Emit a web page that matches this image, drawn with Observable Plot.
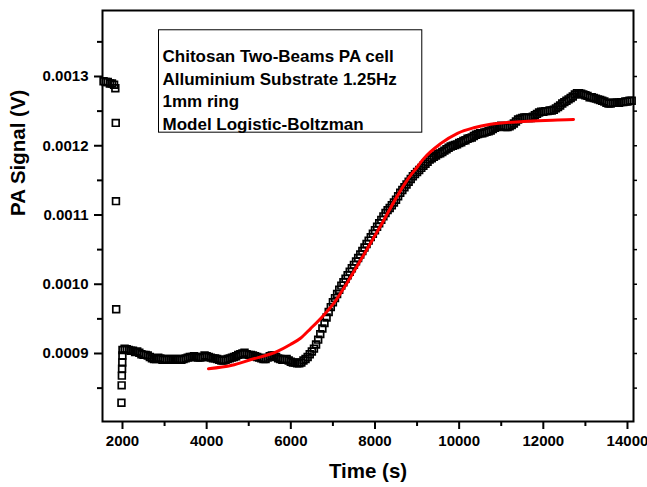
<!DOCTYPE html>
<html><head><meta charset="utf-8">
<script src="https://cdn.jsdelivr.net/npm/d3@7"></script>
<script src="https://cdn.jsdelivr.net/npm/@observablehq/plot@0.6"></script>
<style>body{margin:0;background:#fff}</style>
</head><body><div id="chart"></div>
<script>
// Measured PA signal: time (s) and signal (V)
const timeS = [1550,1600,1650,1700,1750,1800,1830,1840,1845,1850,1975,1980,1985,1990,1995,1998,
2000,2050,2100,2150,2200,2250,2300,2350,2400,2450,2500,2550,2600,2650,2700,2750,2800,2850,2900,2950,
3000,3050,3100,3150,3200,3250,3300,3350,3400,3450,3500,3550,3600,3650,3700,3750,3800,3850,3900,3950,
4000,4050,4100,4150,4200,4250,4300,4350,4400,4450,4500,4550,4600,4650,4700,4750,4800,4850,4900,4950,
5000,5050,5100,5150,5200,5250,5300,5350,5400,5450,5500,5550,5600,5650,5700,5750,5800,5850,5900,5950,
6000,6050,6100,6150,6200,6250,6300,6350,6400,6450,6500,6550,6600,6650,6700,6750,6800,6850,6900,6950,
7000,7050,7100,7150,7200,7250,7300,7350,7400,7450,7500,7550,7600,7650,7700,7750,7800,7850,7900,7950,
8000,8050,8100,8150,8200,8250,8300,8350,8400,8450,8500,8550,8600,8650,8700,8750,8800,8850,8900,8950,
9000,9050,9100,9150,9200,9250,9300,9350,9400,9450,9500,9550,9600,9650,9700,9750,9800,9850,9900,9950,
10000,10050,10100,10150,10200,10250,10300,10350,10400,10450,10500,10550,10600,10650,10700,10750,10800,10850,10900,10950,
11000,11050,11100,11150,11200,11250,11300,11350,11400,11450,11500,11550,11600,11650,11700,11750,11800,11850,11900,11950,
12000,12050,12100,12150,12200,12250,12300,12350,12400,12450,12500,12550,12600,12650,12700,12750,12800,12850,12900,12950,
13000,13050,13100,13150,13200,13250,13300,13350,13400,13450,13500,13550,13600,13650,13700,13750,13800,13850,13900,13950,
14000,14050,14100];
const signalV = [0.001293,0.001292,0.001292,0.001290,0.001290,0.001288,0.001283,0.001233,0.001120,0.000964,0.000829,0.000854,0.000868,0.000878,0.000887,0.000897,
0.000905,0.000907,0.000906,0.000905,0.000904,0.000904,0.000902,0.000903,0.000901,0.000899,0.000898,0.000898,0.000897,0.000895,0.000893,0.000892,0.000892,0.000894,0.000893,0.000891,
0.000891,0.000892,0.000892,0.000891,0.000891,0.000892,0.000892,0.000891,0.000891,0.000892,0.000893,0.000894,0.000895,0.000895,0.000896,0.000895,0.000894,0.000894,0.000895,0.000897,
0.000896,0.000895,0.000894,0.000893,0.000893,0.000892,0.000891,0.000890,0.000890,0.000891,0.000892,0.000893,0.000894,0.000895,0.000896,0.000898,0.000899,0.000900,0.000901,0.000899,
0.000898,0.000898,0.000897,0.000896,0.000895,0.000894,0.000893,0.000892,0.000892,0.000894,0.000896,0.000897,0.000897,0.000895,0.000893,0.000892,0.000891,0.000891,0.000892,0.000890,
0.000888,0.000887,0.000887,0.000886,0.000886,0.000887,0.000890,0.000892,0.000895,0.000899,0.000903,0.000907,0.000913,0.000920,0.000928,0.000936,0.000944,0.000952,0.000960,0.000967,
0.000974,0.000980,0.000986,0.000992,0.000998,0.001003,0.001008,0.001013,0.001018,0.001023,0.001028,0.001033,0.001038,0.001043,0.001048,0.001053,0.001058,0.001063,0.001068,0.001073,
0.001078,0.001083,0.001088,0.001093,0.001098,0.001103,0.001107,0.001110,0.001114,0.001118,0.001122,0.001127,0.001132,0.001136,0.001140,0.001144,0.001148,0.001152,0.001156,0.001159,
0.001162,0.001165,0.001168,0.001171,0.001174,0.001177,0.001180,0.001182,0.001184,0.001186,0.001188,0.001189,0.001191,0.001193,0.001195,0.001197,0.001199,0.001200,0.001201,0.001202,
0.001204,0.001205,0.001207,0.001208,0.001210,0.001211,0.001212,0.001214,0.001216,0.001217,0.001218,0.001218,0.001219,0.001220,0.001221,0.001222,0.001224,0.001226,0.001227,0.001228,
0.001229,0.001228,0.001227,0.001227,0.001228,0.001230,0.001232,0.001235,0.001238,0.001239,0.001240,0.001241,0.001241,0.001240,0.001240,0.001242,0.001244,0.001246,0.001248,0.001249,
0.001249,0.001250,0.001250,0.001251,0.001251,0.001252,0.001254,0.001256,0.001258,0.001261,0.001263,0.001265,0.001267,0.001269,0.001271,0.001274,0.001276,0.001276,0.001275,0.001274,
0.001273,0.001272,0.001270,0.001270,0.001269,0.001268,0.001267,0.001266,0.001265,0.001264,0.001262,0.001261,0.001261,0.001262,0.001262,0.001262,0.001262,0.001263,0.001263,0.001264,
0.001264,0.001265,0.001265];
// Logistic-Boltzmann fit curve
const fitTime = [4044,4600,5040,5680,5990,6230,6470,6776,7050,7347,7727,8131,8535,8750,9000,9153,9557,9960,10350,10745,11529,12337,12717];
const fitSignal = [0.000878,0.000883,0.000891,0.000903,0.000913,0.000922,0.000936,0.000955,0.000975,0.001003,0.001042,0.001084,0.001128,0.001149,0.001169,0.001181,0.001203,0.001218,0.001226,0.001231,0.001235,0.001237,0.001238];
const xMajorTicks = [2000,4000,6000,8000,10000,12000,14000];
const xMinorTicks = [3000,5000,7000,9000,11000,13000];
const yMajorTicks = [0.0009,0.0010,0.0011,0.0012,0.0013];
const yTickLabels = ["0.0009","0.0010","0.0011","0.0012","0.0013"];
const yMinorTicks = [0.00085,0.00095,0.00105,0.00115,0.00125,0.00135];
const legendLines = ["Chitosan Two-Beams PA cell","Alluminium Substrate 1.25Hz","1mm ring","Model Logistic-Boltzman"];
const xTitle = "Time (s)";
const yTitle = "PA Signal (V)";

const points = timeS.map((t, i) => ({t, v: signalV[i]}));
const fit = fitTime.map((t, i) => ({t, v: fitSignal[i]}));
const yLabelOf = new Map(yMajorTicks.map((d, i) => [d, yTickLabels[i]]));
const font = "'Liberation Sans', Arial, sans-serif";

const chart = Plot.plot({
  width: 647, height: 487,
  marginLeft: 102, marginRight: 14, marginTop: 10, marginBottom: 66,
  style: {fontFamily: font, fontWeight: "bold", fontSize: "15px", color: "black", background: "white"},
  x: {domain: [1525, 14143], axis: null},
  y: {domain: [0.0008018, 0.0013953], axis: null},
  marks: [
    Plot.dot(points, {x: "t", y: "v", symbol: "square", r: 3.8, stroke: "black", strokeWidth: 1.7, fill: "none"}),
    Plot.line(fit, {x: "t", y: "v", stroke: "#ff0000", strokeWidth: 3, curve: "monotone-x"}),
    Plot.axisY(yMajorTicks, {anchor: "left", tickSize: 8, tickPadding: 6, strokeWidth: 2, tickFormat: d => yLabelOf.get(d), fontSize: 15, fontWeight: "bold", label: null}),
    Plot.axisY(yMinorTicks, {anchor: "left", tickSize: 5, strokeWidth: 2, tickFormat: () => "", label: null}),
    Plot.axisY(yMajorTicks.concat(yMinorTicks), {anchor: "right", tickSize: 3, strokeWidth: 1.5, tickFormat: () => "", label: null}),
    Plot.axisX(xMajorTicks, {anchor: "bottom", tickSize: 8, tickPadding: 6, strokeWidth: 2, tickFormat: d => String(d), fontSize: 15, fontWeight: "bold", label: null}),
    Plot.axisX(xMinorTicks, {anchor: "bottom", tickSize: 5, strokeWidth: 2, tickFormat: () => "", label: null}),
    Plot.frame({stroke: "black", strokeWidth: 2}),
    Plot.text([xTitle], {frameAnchor: "bottom", lineAnchor: "top", dy: 42.3, fontSize: 20.5, fontWeight: "bold", fill: "black"}),
    Plot.text([yTitle], {frameAnchor: "left", lineAnchor: "top", rotate: -90, dx: -92, fontSize: 20.5, fontWeight: "bold", fill: "black"}),
    Plot.text([legendLines.join("\n")], {frameAnchor: "top-left", textAnchor: "start", lineAnchor: "top", dx: 60, dy: 35.7, fontSize: 17, lineHeight: 1.3235, fontWeight: "bold", fill: "black"})
  ]
});
document.getElementById("chart").appendChild(chart);

// Draw the legend box around the legend text
const legendText = [...chart.querySelectorAll("text")].find(t => t.textContent.includes(legendLines[0]));
if (legendText) {
  const sr = chart.getBoundingClientRect();
  const br = legendText.getBoundingClientRect();
  const rect = document.createElementNS("http://www.w3.org/2000/svg", "rect");
  rect.setAttribute("x", br.left - sr.left - 4);
  rect.setAttribute("y", br.top - sr.top - 17.4);
  rect.setAttribute("width", br.width + 29);
  rect.setAttribute("height", br.height + 15.9);
  rect.setAttribute("fill", "white");
  rect.setAttribute("stroke", "black");
  rect.setAttribute("stroke-width", "1");
  const g = legendText.closest("g");
  g.parentNode.insertBefore(rect, g);
}
</script>
</body></html>
